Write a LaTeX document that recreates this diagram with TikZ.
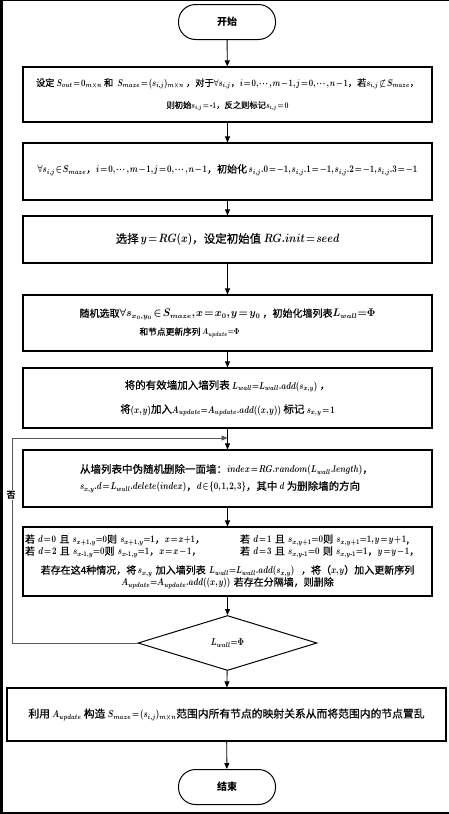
\documentclass[tikz,border=0pt]{standalone}
\usepackage{fontspec}
\setmainfont{Noto Sans CJK SC}[UprightFeatures={FakeBold=0.6}]
\usepackage{amsmath}
\usepackage{graphicx}
\usetikzlibrary{arrows.meta,shapes.geometric}
\newsavebox{\lnbox}
\newcommand{\fl}[2]{\sbox{\lnbox}{#2}\ifdim\wd\lnbox>#1pt\resizebox{#1pt}{!}{\usebox{\lnbox}}\else\usebox{\lnbox}\fi}
\newcommand{\m}[1]{{\fontsize{10}{12}\selectfont\boldmath\scalebox{0.78}[1]{$#1$}}}
\newcommand{\mw}[1]{{\fontsize{10.5}{12}\selectfont\boldmath\scalebox{0.95}[1]{$#1$}}}
\thickmuskip=2mu plus 1mu
\medmuskip=1.5mu
\thinmuskip=1.5mu
\begin{document}
\begin{tikzpicture}[x=1pt,y=-1pt,
  box/.style={draw,line width=1.1pt,minimum width=409pt,inner sep=0pt,align=center},
  term/.style={draw,line width=1pt,rounded corners=17pt,minimum width=97pt,minimum height=35pt,font=\fontsize{10}{12}\selectfont\bfseries},
  arr/.style={line width=0.9pt,-{Triangle[length=6pt,width=5pt]}},
  loopline/.style={line width=0.8pt,draw=black!65},
]
\useasboundingbox (0,0) rectangle (449,814);
\fill[white] (0,0) rectangle (449,814);
\fill[black] (0,0) rectangle (3,814);
\fill[black] (0,0) rectangle (449,1);
\fill[black] (0,812) rectangle (449,814);
\node[term] (start) at (227,22) {开始};
\node[box,minimum height=55pt,font=\fontsize{9.5}{22}\selectfont] (b1) at (227.5,94.5)
 {\fl{383}{设定 \m{S_{out}=0_{m\times n}} 和\ \ \m{S_{maze}=(s_{i,j})_{m\times n}}\ ，对于\m{\forall s_{i,j}}，\m{i=0,\cdots,m-1,j=0,\cdots,n-1}，若\m{s_{i,j}\not\subset S_{maze}}，}\\
  \fl{122}{则初始\m{s_{i,j}=\text{-}1}，反之则标记\m{s_{i,j}=0}}};
\node[box,minimum height=57pt,font=\fontsize{10}{18}\selectfont] (b2) at (227.5,171.5)
 {\raisebox{6pt}{\fl{398}{\m{\forall s_{i,j}\in S_{maze}}，\m{i=0,\cdots,m-1,j=0,\cdots,n-1}，初始化\,\m{s_{i,j}.0=-1,s_{i,j}.1=-1,s_{i,j}.2=-1,s_{i,j}.3=-1}}}};
\node[box,minimum height=47pt,font=\fontsize{11.5}{18}\selectfont] (b3) at (227.5,239.5)
 {\fl{238}{选择\,{\fontsize{12}{12}\selectfont\boldmath\scalebox{0.85}[1]{$y=RG(x)$}}，设定初始值 {\fontsize{12}{12}\selectfont\boldmath\scalebox{0.85}[1]{$RG.init=seed$}}}};
\node[box,minimum height=56pt,font=\fontsize{10}{18}\selectfont] (b4) at (227.5,323)
 {\fl{298}{随机选取\mw{\forall s_{x_0,y_0}\in S_{maze},x=x_0,y=y_0}\ ，初始化墙列表\mw{L_{wall}{=}\Phi}}\\
  \makebox[176pt][l]{\fl{100}{和节点更新序列 \m{A_{update}{=}\Phi}}}};
\node[box,minimum height=60pt,font=\fontsize{10.5}{24}\selectfont] (b5) at (227.5,398)
 {\fl{218}{将的有效墙加入墙列表 \m{L_{wall}{=}L_{wall}.add(s_{x,y})}\ ，}\\
  \fl{216}{将\m{(x,y)}加入\m{A_{update}{=}A_{update}.add((x,y))} 标记 \m{s_{x,y}=1}}};
\node[box,minimum height=57pt,font=\fontsize{10.5}{17}\selectfont] (b6) at (227.5,478.5)
 {\raisebox{3pt}{\makebox[331pt][l]{\hspace{18pt}\fl{313}{从墙列表中伪随机删除一面墙：\m{index=RG.random(L_{wall}.length)}，}}}\\
  \raisebox{3pt}{\makebox[331pt][l]{\hspace{18pt}\fl{280}{\m{s_{x,y}.d=L_{wall}.delete(index)}，\m{d\in\{0,1,2,3\}}，其中 \m{d} 为删除墙的方向}}}};
\node[box,minimum height=69pt,text width=405pt,align=left,font=\fontsize{10}{12}\selectfont] (b7) at (227.5,561.5)
 {\makebox[\linewidth][l]{\makebox[215pt][l]{\fl{180}{若\ \m{d=0} 且 \m{s_{x+1,y}{=}0}则\ \m{s_{x+1,y}{=}1}，\m{x=x{+}1}，}}\fl{190}{若\ \m{d=1} 且 \m{s_{x,y+1}{=}0}则\ \m{s_{x,y+1}{=}1,y=y+1},}}\\
  \makebox[\linewidth][l]{\makebox[215pt][l]{\fl{180}{若\ \m{d=2}\ 且 \m{s_{x\text{-}1,y}{=}0}则\ \m{s_{x\text{-}1,y}{=}1}，\m{x=x-1}，}}\fl{190}{若\ \m{d=3} 且 \m{s_{x,y\text{-}1}{=}0} 则 \m{s_{x,y\text{-}1}{=}1}，\m{y=y-1}，}}\\[7pt]
  \makebox[\linewidth]{\fl{401}{若存在这4种情况，将\,\m{s_{x,y}} 加入墙列表 \m{L_{wall}{=}L_{wall}.add(s_{x,y})}\ \ ，将（\m{x,y}）加入更新序列}}\\
  \makebox[\linewidth]{\fl{237}{\m{A_{update}{=}A_{update}.add((x,y))} 若存在分隔墙，则删除}}};
\node[diamond,draw,line width=1pt,minimum width=179pt,minimum height=55pt,inner sep=0pt,font=\fontsize{10}{11}\selectfont] (dec) at (227.5,643) {\m{L_{wall}{=}\Phi}};
\node[box,minimum width=439pt,minimum height=53pt,font=\fontsize{10.8}{18}\selectfont] (b8) at (226.5,714.5)
 {\fl{403}{利用 \m{A_{update}} 构造 \m{S_{maze}=(s_{i,j})_{m\times n}}范围内所有节点的映射关系从而将范围内的节点置乱}};
\node[term] (end) at (227,787) {结束};
\coordinate (lp1) at (12,643);
\coordinate (lp2) at (12,438);
\coordinate (lp3) at (227.5,438);
\draw[arr] (start) -- (b1);
\draw[arr] (b1) -- (b2);
\draw[arr] (b2) -- (b3);
\draw[arr] (b3) -- (b4);
\draw[arr] (b4) -- (b5);
\draw[arr] (b5) -- (b6);
\draw[arr] (b6) -- (b7);
\draw[arr] (b7) -- (dec);
\draw[arr] (dec) -- (b8);
\draw[arr] (b8) -- (end);
\draw[loopline] (dec.west) -- (lp1) -- (lp2);
\draw[loopline,-{Triangle[length=6pt,width=5pt]},draw=black!65,fill=black] (lp2) -- (lp3);
\node[fill=white,inner sep=1pt,font=\fontsize{9}{11}\selectfont\bfseries] (no) at (11,495) {否};
\end{tikzpicture}
\end{document}
